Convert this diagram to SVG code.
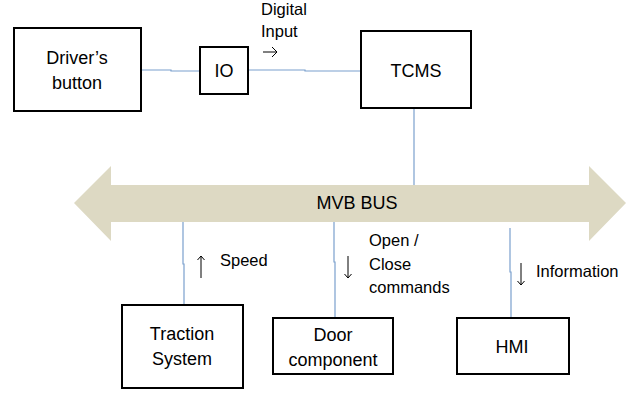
<svg xmlns="http://www.w3.org/2000/svg" width="644" height="393" viewBox="0 0 644 393">
<style>
.box{fill:#fff;stroke:#000;stroke-width:2}
.lbl{font-family:"Liberation Sans",Arial,sans-serif;font-size:18px;fill:#000;text-anchor:middle}
.sm{font-family:"Liberation Sans",Arial,sans-serif;font-size:16.5px;fill:#000}
.ln{fill:none;stroke:#7BA0CD;stroke-width:1.2}
.ar{fill:none;stroke:#000;stroke-width:1}
</style>
<rect width="644" height="393" fill="#fff"/>
<g id="bus">
<polygon points="74,203 111,166 111,185 589,185 589,166 626,203 589,241 589,222 111,222 111,241" fill="#DDD9C3"/>
<text x="357" y="209" class="lbl" font-size="16">MVB BUS</text>
</g>
<g id="connectors">
<polyline class="ln" points="141,70 171,70 171,71 200,71"/>
<polyline class="ln" points="248,70 305,70 305,71 361,71"/>
<line class="ln" x1="414" y1="108" x2="414" y2="185"/>
<polyline class="ln" points="183,222 183,264 184,264 184,305"/>
<polyline class="ln" points="334,222 334,262 335,262 335,318"/>
<polyline class="ln" points="510,228 510,272 511,272 511,318"/>
</g>
<g id="drivers-button">
<rect class="box" x="14" y="28" width="127" height="83"/>
<text class="lbl" x="77" y="64">Driver’s</text>
<text class="lbl" x="77" y="89">button</text>
</g>
<g id="io">
<rect class="box" x="200" y="47" width="48" height="47"/>
<text class="lbl" x="224" y="77">IO</text>
</g>
<g id="tcms">
<rect class="box" x="361" y="31" width="110" height="77"/>
<text class="lbl" x="416" y="77">TCMS</text>
</g>
<g id="traction">
<rect class="box" x="122" y="305" width="121" height="83"/>
<text class="lbl" x="182" y="340">Traction</text>
<text class="lbl" x="182" y="365">System</text>
</g>
<g id="door">
<rect class="box" x="273" y="318" width="120" height="56"/>
<text class="lbl" x="333" y="341">Door</text>
<text class="lbl" x="333" y="366">component</text>
</g>
<g id="hmi">
<rect class="box" x="457" y="318" width="112" height="56"/>
<text class="lbl" x="512" y="353">HMI</text>
</g>
<g id="labels">
<text class="sm" x="261" y="15">Digital</text>
<text class="sm" x="261" y="37">Input</text>
<path class="ar" d="M263,52 H277 M272,47 L277,52 L272,57"/>
<text class="sm" x="220" y="266">Speed</text>
<path class="ar" d="M201,278 V256 M197.5,260 L201,256 L204.5,260"/>
<text class="sm" x="369" y="246">Open /</text>
<text class="sm" x="369" y="270">Close</text>
<text class="sm" x="369" y="293">commands</text>
<path class="ar" d="M348,256 V278 M344.5,274 L348,278 L351.5,274"/>
<text class="sm" x="536" y="277">Information</text>
<path class="ar" d="M521,263 V285 M517.5,281 L521,285 L524.5,281"/>
</g>
</svg>
